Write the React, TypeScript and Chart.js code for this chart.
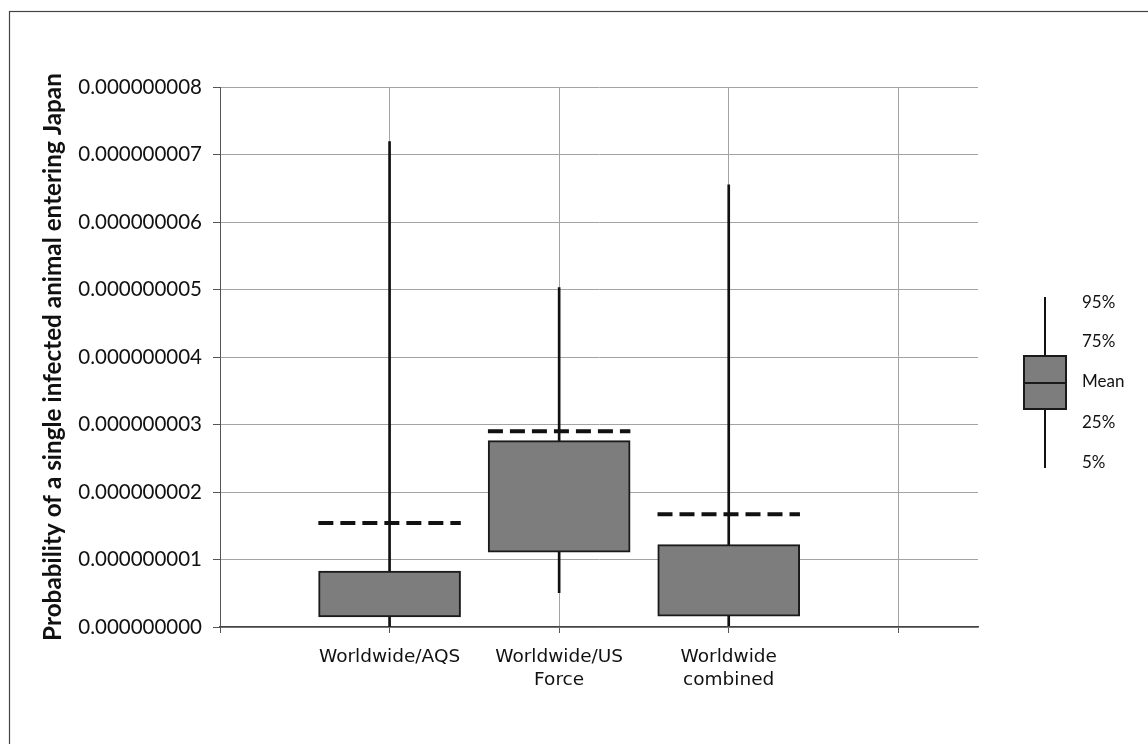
import { useEffect, useRef } from "react";
import { Chart, registerables } from "chart.js";

Chart.register(...registerables);

// ---- data ----
const categories: (string | string[])[] = [
  "Worldwide/AQS",
  ["Worldwide/US", "Force"],
  ["Worldwide", "combined"],
];
const categoryPositions = [1, 2, 3];
const p5 = [0.01e-9, 0.51e-9, 0.02e-9];
const q1 = [0.15e-9, 1.11e-9, 0.16e-9];
const q3 = [0.83e-9, 2.76e-9, 1.22e-9];
const p95 = [7.19e-9, 5.03e-9, 6.55e-9];
const means = [1.54e-9, 2.9e-9, 1.67e-9];
const yTicks = [0, 1e-9, 2e-9, 3e-9, 4e-9, 5e-9, 6e-9, 7e-9, 8e-9];
const xTicks = [0, 1, 2, 3, 4];
const legendLabels = ["95%", "75%", "Mean", "25%", "5%"];
const yTitle = "Probability of a single infected animal entering Japan";

const X_MAX = 4.47;
const MEAN_HALF = 0.42;

const decorPlugin = {
  id: "decor",
  afterDraw(chart: any) {
    const ctx = chart.ctx as CanvasRenderingContext2D;
    const area = chart.chartArea;
    ctx.save();
    // outer frame
    ctx.strokeStyle = "#444";
    ctx.lineWidth = 1.2;
    ctx.strokeRect(9.5, 11.5, 1400, 1000);

    // legend key
    const cx = area.right + 67;
    const boxL = cx - 22;
    const boxW = 44;
    ctx.strokeStyle = "#111";
    ctx.lineWidth = 2;
    ctx.beginPath();
    ctx.moveTo(cx, 297);
    ctx.lineTo(cx, 468);
    ctx.stroke();
    ctx.fillStyle = "#7d7d7d";
    ctx.fillRect(boxL, 355, boxW, 55);
    ctx.strokeStyle = "#1a1a1a";
    ctx.strokeRect(boxL + 1, 356, boxW - 2, 53);
    ctx.beginPath();
    ctx.moveTo(boxL, 383);
    ctx.lineTo(boxL + boxW, 383);
    ctx.stroke();

    ctx.fillStyle = "#111";
    ctx.font = "17px Lato";
    ctx.textBaseline = "middle";
    ctx.textAlign = "left";
    const ys = [303, 342, 382, 423, 463];
    legendLabels.forEach((t, i) => ctx.fillText(t, cx + 37, ys[i]));
    ctx.restore();
  },
};

export default function App() {
  const ref = useRef<HTMLCanvasElement>(null);

  useEffect(() => {
    const canvas = ref.current;
    if (!canvas) return;

    const boxData = categoryPositions.map((x, i) => ({ x, y: [q1[i], q3[i]] }));
    const whiskerData = categoryPositions.map((x, i) => ({ x, y: [p5[i], p95[i]] }));
    const meanData: { x: number; y: number | null }[] = [];
    categoryPositions.forEach((x, i) => {
      meanData.push({ x: x - MEAN_HALF, y: means[i] });
      meanData.push({ x: x + MEAN_HALF, y: means[i] });
      meanData.push({ x: x + 0.5, y: null });
    });

    const chart = new Chart(canvas, {
      type: "bar",
      data: {
        datasets: [
          {
            type: "line",
            label: "Mean",
            data: meanData as any,
            borderColor: "#111",
            borderWidth: 4,
            borderDash: [15, 7],
            borderCapStyle: "butt",
            pointRadius: 0,
            spanGaps: false,
            fill: false,
            tension: 0,
            order: 0,
          } as any,
          {
            type: "bar",
            label: "25%-75%",
            data: boxData as any,
            backgroundColor: "#7d7d7d",
            borderColor: "#1a1a1a",
            borderWidth: 2,
            borderSkipped: false,
            barThickness: 142,
            grouped: false,
            order: 1,
          } as any,
          {
            type: "bar",
            label: "5%-95%",
            data: whiskerData as any,
            backgroundColor: "#111",
            borderWidth: 0,
            barThickness: 2,
            grouped: false,
            order: 2,
          } as any,
        ],
      },
      options: {
        animation: false,
        responsive: false,
        devicePixelRatio: 1,
        layout: { padding: { left: 0, top: 87, right: 170, bottom: 0 } },
        plugins: {
          legend: { display: false },
          tooltip: { enabled: false },
          title: { display: false },
        },
        scales: {
          x: {
            type: "linear",
            min: 0,
            max: X_MAX,
            offset: false,
            afterBuildTicks: (s: any) => {
              s.ticks = xTicks.map((v) => ({ value: v }));
            },
            afterFit: (s: any) => {
              s.height = 117;
            },
            grid: {
              color: "#a3a3a3",
              lineWidth: 1,
              offset: false,
              drawTicks: true,
              tickLength: 6,
              tickColor: "#555",
            },
            border: { color: "#444", width: 1.5 },
            ticks: {
              autoSkip: false,
              maxRotation: 0,
              minRotation: 0,
              padding: 12,
              color: "#111",
              font: { family: '"DejaVu Sans"', size: 18.5, lineHeight: 1.28 },
              callback: (v: any) => {
                const i = categoryPositions.indexOf(Number(v));
                return i >= 0 ? (categories[i] as any) : "";
              },
            },
          } as any,
          y: {
            type: "linear",
            min: 0,
            max: 8e-9,
            afterBuildTicks: (s: any) => {
              s.ticks = yTicks.map((v) => ({ value: v }));
            },
            afterFit: (s: any) => {
              s.width = 220;
            },
            grid: {
              color: "#a3a3a3",
              lineWidth: 1,
              drawTicks: true,
              tickLength: 7,
              tickColor: "#555",
            },
            border: { color: "#555", width: 1 },
            ticks: {
              autoSkip: false,
              padding: 11,
              color: "#111",
              font: { family: "Lato", size: 20.5 },
              callback: (v: any) => Number(v).toFixed(9),
            },
            title: {
              display: true,
              text: yTitle,
              color: "#111",
              font: { family: "Lato", size: 24.3, weight: "bold" },
              padding: { top: 39, bottom: 0 },
            },
          } as any,
        },
      },
      plugins: [decorPlugin],
    });

    return () => chart.destroy();
  }, []);

  return (
    <canvas
      ref={ref}
      width={1148}
      height={744}
      style={{ position: "fixed", left: 0, top: 0, width: 1148, height: 744, background: "#fff" }}
    />
  );
}
